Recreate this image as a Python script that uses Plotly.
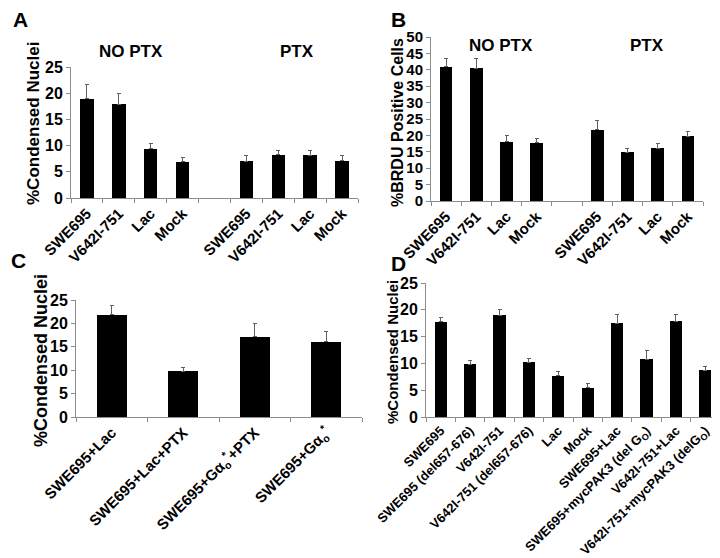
import plotly.graph_objects as go

W, H = 720, 558
FONT = "Liberation Sans, Arial, sans-serif"
AXIS_GREY = "#8c8c8c"

# Panel A: % condensed nuclei, without and with PTX
a_labels = ["SWE695", "V642I-751", "Lac", "Mock"]
a_no_ptx = [18.9, 17.9, 9.4, 6.9]
a_no_ptx_err = [2.7, 2.1, 1.0, 0.8]
a_ptx = [7.0, 8.3, 8.2, 7.1]
a_ptx_err = [1.2, 0.8, 0.8, 1.1]

# Panel B: % BRDU positive cells
b_labels = ["SWE695", "V642I-751", "Lac", "Mock"]
b_no_ptx = [41.0, 40.5, 18.0, 17.8]
b_no_ptx_err = [2.5, 2.8, 1.9, 1.2]
b_ptx = [21.7, 14.8, 16.1, 19.8]
b_ptx_err = [2.7, 1.1, 1.4, 1.3]

# Panel C
c_labels = ["SWE695+Lac", "SWE695+Lac+PTX",
            "SWE695+Gα<sub>o</sub><sup>*</sup>+PTX", "SWE695+Gα<sub>o</sub><sup>*</sup>"]
c_values = [21.8, 9.8, 17.1, 16.1]
c_err = [2.1, 0.7, 2.8, 2.1]

# Panel D
d_labels = ["SWE695", "SWE695 (del657-676)", "V642I-751", "V642I-751 (del657-676)",
            "Lac", "Mock", "SWE695+Lac", "SWE695+mycPAK3 (del G<sub>O</sub>)",
            "V642I-751+Lac", "V642I-751+mycPAK3 (delG<sub>O</sub>)"]
d_values = [17.8, 9.8, 19.0, 10.2, 7.7, 5.5, 17.5, 10.8, 17.9, 8.7]
d_err = [0.8, 0.8, 1.1, 0.8, 0.8, 0.7, 1.7, 1.7, 1.2, 0.8]


def px_x(x):
    return x / W


def px_y(y):
    return 1 - y / H


fig = go.Figure()


def add_panel(n, labels, values, errs, positions, n_slots, box, yrange, dtick,
              tick_size, label_size):
    """Bar panel n placed in pixel box (x0, x1, ytop, ybottom)."""
    x0, x1, yt, yb = box
    xa, ya = f"x{n}" if n > 1 else "x", f"y{n}" if n > 1 else "y"
    fig.add_trace(go.Bar(
        x=positions, y=values, width=0.42,
        marker=dict(color="black", line=dict(width=0)),
        error_y=dict(type="data", array=errs, arrayminus=[0] * len(errs),
                     symmetric=False, color="#606060", thickness=1, width=2),
        xaxis=xa, yaxis=ya, showlegend=False,
    ))
    key = "" if n == 1 else str(n)
    fig.layout["xaxis" + key] = dict(
        domain=[px_x(x0), px_x(x1)], anchor=ya, range=[-0.5, n_slots - 0.5],
        tickvals=positions, ticktext=labels, ticks="", tickangle=-45,
        tickfont=dict(family=FONT, size=label_size, color="black", weight="bold"),
        showline=True, linecolor=AXIS_GREY, linewidth=1, showgrid=False, zeroline=False,
        minor=dict(tickvals=[i - 0.5 for i in range(n_slots + 1)], ticks="outside",
                   ticklen=4, tickcolor=AXIS_GREY, showgrid=False),
        automargin=False, fixedrange=True,
    )
    fig.layout["yaxis" + key] = dict(
        domain=[px_y(yb), px_y(yt)], anchor=xa, range=yrange, dtick=dtick,
        ticks="outside", ticklen=4, tickcolor=AXIS_GREY,
        tickfont=dict(family=FONT, size=tick_size, color="black", weight="bold"),
        showline=True, linecolor=AXIS_GREY, linewidth=1, showgrid=False, zeroline=False,
        automargin=False,
    )


ab_pos = list(range(4)) + [i + 5 for i in range(4)]

add_panel(1, a_labels + a_labels, a_no_ptx + a_ptx, a_no_ptx_err + a_ptx_err,
          ab_pos, 9, (63, 350, 59, 190), [0, 25], 5, 16, 15)
add_panel(2, b_labels + b_labels, b_no_ptx + b_ptx, b_no_ptx_err + b_ptx_err,
          ab_pos, 9, (423, 695, 29, 193), [0, 50], 5, 15, 15)
add_panel(3, c_labels, c_values, c_err, list(range(len(c_labels))), len(c_labels),
          (68, 354, 292, 409), [0, 25], 5, 16, 15)
add_panel(4, d_labels, d_values, d_err, list(range(len(d_labels))), len(d_labels),
          (418, 712, 275, 409), [0, 25], 5, 16, 13)

annotations = []


def note(text, x, y, size, angle=0):
    annotations.append(dict(
        text=text, x=px_x(x), y=px_y(y), xref="paper", yref="paper",
        showarrow=False, textangle=angle, xanchor="center", yanchor="middle",
        font=dict(family=FONT, size=size, color="black", weight="bold"),
    ))


note("A", 12, 12, 21)
note("B", 390, 12, 21)
note("C", 10, 252, 21)
note("D", 390, 255, 21)

note("NO PTX", 123, 43, 17)
note("PTX", 289, 43, 17)
note("NO PTX", 493, 37, 17)
note("PTX", 639, 37, 17)

note("%Condensed Nuclei", 26, 116, 17, -90)
note("%BRDU Positive Cells", 389, 115, 16, -90)
note("%Condensed Nuclei", 33, 353, 18, -90)
note("%Condensed Nuclei", 384, 344, 15, -90)

fig.update_layout(
    width=W, height=H, margin=dict(l=0, r=0, t=0, b=0, autoexpand=False),
    paper_bgcolor="white", plot_bgcolor="white",
    annotations=annotations, bargap=0,
)

fig.write_html("out.html")
